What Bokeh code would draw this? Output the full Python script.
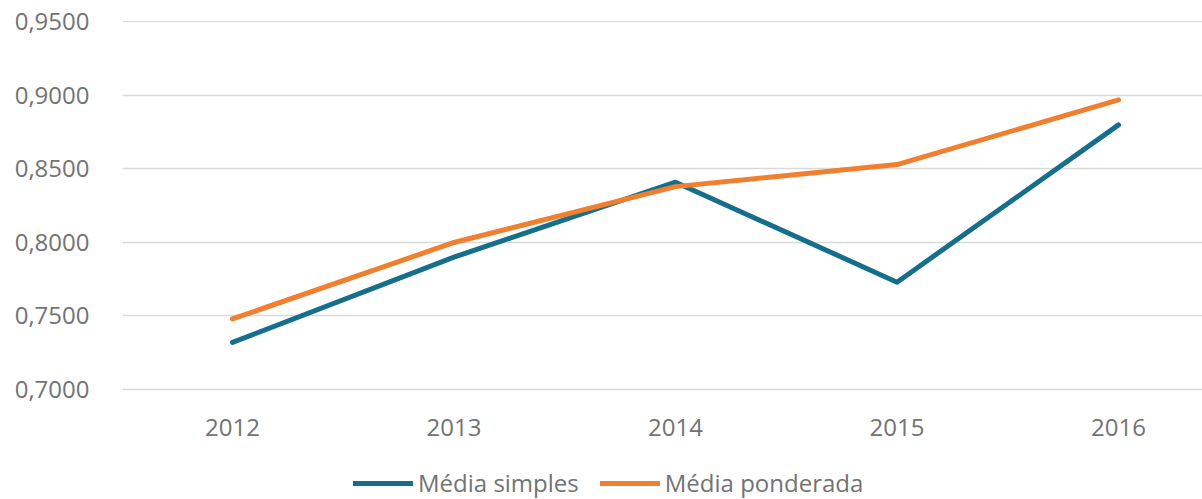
from bokeh.plotting import figure
from bokeh.models import Range1d, FixedTicker, CustomJSTickFormatter, Legend, LegendItem
from bokeh.embed import file_html
from bokeh.resources import INLINE

years = [2012, 2013, 2014, 2015, 2016]
media_simples = [0.732, 0.790, 0.841, 0.773, 0.880]
media_ponderada = [0.748, 0.800, 0.838, 0.853, 0.897]
y_ticks = [0.70, 0.75, 0.80, 0.85, 0.90, 0.95]

FONT = "Open Sans"
TXT = "#737373"
BLUE = "#156F8A"
ORANGE = "#F07F2F"

# frame fills down to the bottom edge; the x axis sits at y = 0.70 inside it,
# leaving room below for the legend without clipping
p = figure(width=1202, height=499, output_backend="svg", toolbar_location=None,
           x_range=Range1d(2011.5034, 2016.379), y_range=Range1d(0.62517, 0.951),
           min_border_left=122, min_border_right=0, min_border_top=20, min_border_bottom=0)
p.outline_line_color = None
p.background_fill_color = "white"

r1 = p.line(years, media_simples, line_color=BLUE, line_width=5, line_cap="round", line_join="round")
r2 = p.line(years, media_ponderada, line_color=ORANGE, line_width=5, line_cap="round", line_join="round")

p.xgrid.visible = False
p.ygrid.grid_line_color = "#D9D9D9"
p.ygrid.grid_line_width = 1.5
p.yaxis.ticker = FixedTicker(ticks=y_ticks)
p.xaxis.ticker = FixedTicker(ticks=years)
p.xaxis.fixed_location = 0.70
p.yaxis.formatter = CustomJSTickFormatter(code="return tick.toFixed(4).replace('.', ',');")

for ax in (p.xaxis[0], p.yaxis[0]):
    ax.axis_line_color = None
    ax.major_tick_line_color = None
    ax.minor_tick_line_color = None
    ax.major_tick_out = 0
    ax.major_tick_in = 0
    ax.major_label_text_font = FONT
    ax.major_label_text_font_size = "24px"
    ax.major_label_text_color = TXT
p.yaxis.major_label_standoff = 33
p.xaxis.major_label_standoff = 30

legend = Legend(items=[LegendItem(label="Média simples", renderers=[r1]),
                       LegendItem(label="Média ponderada", renderers=[r2])],
                location=(231, 0), orientation="horizontal",
                border_line_color=None, background_fill_alpha=0,
                padding=0, margin=0, spacing=21, glyph_width=60, glyph_height=24,
                label_standoff=5, label_text_font=FONT, label_text_font_size="24px",
                label_text_color=TXT)
p.add_layout(legend, "center")

open("out.html", "w").write(file_html(p, INLINE))
